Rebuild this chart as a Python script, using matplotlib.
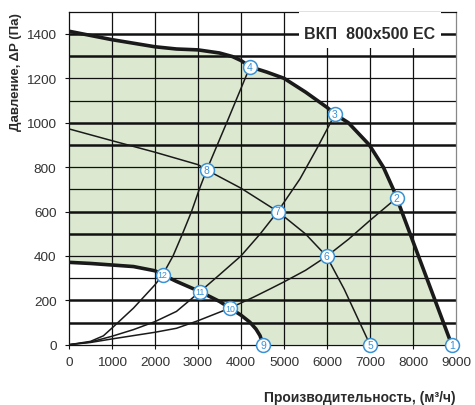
import matplotlib
matplotlib.use("Agg")
import matplotlib.pyplot as plt
from matplotlib.patches import Rectangle

plt.rcParams['font.family'] = ['Liberation Sans', 'DejaVu Sans']

# ---- data ----
max_x = [0, 1000, 2000, 2500, 3000, 3500, 3800, 4000, 4209, 4600, 5000, 5500, 6000, 6186, 6496, 6984, 7310, 7543, 7620, 8900]
max_y = [1412, 1374, 1342, 1332, 1328, 1314, 1298, 1280, 1252, 1228, 1200, 1138, 1069, 1038, 1000, 900, 800, 700, 661, 0]

min_x = [0, 500, 1000, 1500, 2000, 2178, 2500, 3047, 3500, 3744, 4000, 4209, 4350, 4442, 4512]
min_y = [371, 366, 359, 352, 333, 315, 285, 239, 195, 165, 133, 101, 70, 41, 0]

curve_a_x = [0, 500, 800, 1000, 1500, 2000, 2178, 2420, 2640, 2850, 3030, 3202, 3700, 4209]
curve_a_y = [0, 15, 40, 75, 165, 270, 315, 400, 500, 600, 700, 787, 1015, 1252]

curve_b_x = [0, 500, 1000, 1500, 2000, 2500, 3047, 3500, 4000, 4450, 4855, 5372, 5760, 6186]
curve_b_y = [0, 12, 38, 68, 104, 150, 239, 315, 400, 500, 600, 747, 882, 1038]

curve_c_x = [0, 500, 1000, 2000, 2500, 3000, 3744, 4300, 4674, 5000, 5500, 5992, 6500, 7000, 7620]
curve_c_y = [0, 10, 26, 56, 74, 108, 165, 215, 251, 283, 335, 398, 475, 560, 661]

curve_d_x = [0, 1000, 2000, 3000, 3202, 4000, 4855, 5500, 5992, 6400, 6700, 7000]
curve_d_y = [972, 919, 867, 811, 787, 705, 600, 499, 398, 250, 125, 0]

point_labels = ['1', '2', '3', '4', '5', '6', '7', '8', '9', '10', '11', '12']
point_x = [8900, 7620, 6186, 4209, 7000, 5992, 4855, 3202, 4512, 3744, 3047, 2178]
point_y = [0, 661, 1038, 1252, 0, 398, 600, 787, 0, 165, 239, 315]

x_ticks = [0, 1000, 2000, 3000, 4000, 5000, 6000, 7000, 8000, 9000]
y_ticks = [0, 200, 400, 600, 800, 1000, 1200, 1400]
thick_levels = [100, 200, 500, 600, 900, 1000, 1300, 1400]
thin_levels = [300, 400, 700, 800, 1100, 1200]

title = "ВКП  800x500 EC"
xlabel = "Производительность, (м³/ч)"
ylabel = "Давление, ΔP (Па)"

# ---- figure ----
fig = plt.figure(figsize=(4.75, 4.06), dpi=100)
ax = fig.add_axes([69/475, 1 - 345.7/406, (456 - 69)/475, (345.7 - 12.7)/406])
ax.set_xlim(0, 9000)
ax.set_ylim(0, 1500)

# fill of working area
fx = list(max_x) + [min_x[-1]] + list(reversed(min_x))
fy = list(max_y) + [0] + list(reversed(min_y))
ax.fill(fx, fy, color='#dce9d0', zorder=1, lw=0)

# grid
for v in x_ticks[1:-1]:
    ax.axvline(v, color='#111111', lw=0.9, zorder=2)
for h in thick_levels:
    ax.axhline(h, color='#111111', lw=1.8, zorder=2)
for h in thin_levels:
    ax.axhline(h, color='#111111', lw=0.9, zorder=2)

# title box (white background breaking grid)
ax.add_patch(Rectangle((5350, 1335), 3300, 165, facecolor='white', edgecolor='none', zorder=3))
ax.text(7000, 1400, title, ha='center', va='center', fontsize=11.5, fontweight='bold',
        color='#2a2a2a', zorder=4)

# system curves
for cx, cy in [(curve_a_x, curve_a_y), (curve_b_x, curve_b_y), (curve_c_x, curve_c_y), (curve_d_x, curve_d_y)]:
    ax.plot(cx, cy, color='#1a1a1a', lw=1.1, zorder=4, solid_capstyle='round')

# boundary curves
ax.plot(max_x, max_y, color='#1a1a1a', lw=2.6, zorder=5, solid_joinstyle='round', solid_capstyle='round')
ax.plot(min_x, min_y, color='#1a1a1a', lw=2.6, zorder=5, solid_joinstyle='round', solid_capstyle='round')

# numbered points
ax.scatter(point_x, point_y, s=100, facecolor='white', edgecolor='#3a92d6', lw=1.1, zorder=6, clip_on=False)
for lab, px, py in zip(point_labels, point_x, point_y):
    ax.text(px, py, lab, ha='center', va='center', fontsize=7.5 if len(lab) == 1 else 6.3,
            color='#3a92d6', zorder=7, clip_on=False)

# axes styling
ax.set_xticks(x_ticks)
ax.set_yticks(y_ticks)
ax.tick_params(axis='both', length=3, width=0.8, color='#111111', labelsize=9.7, labelcolor='#333333')
ax.tick_params(axis='x', pad=5)
ax.tick_params(axis='y', pad=6)
for s in ['left', 'bottom', 'top']:
    ax.spines[s].set_color('#111111')
    ax.spines[s].set_linewidth(0.9)
ax.spines['right'].set_color('#888888')
ax.spines['right'].set_linewidth(0.9)

fig.text(456/475, 1 - 398/406, xlabel, ha='right', va='center', fontsize=10,
         fontweight='bold', color='#2a2a2a')
fig.text(16.5/475, 1 - 12.7/406, ylabel, ha='center', va='top', rotation=90,
         fontsize=9.5, fontweight='bold', color='#2a2a2a')

fig.savefig('out.png', dpi=100)
